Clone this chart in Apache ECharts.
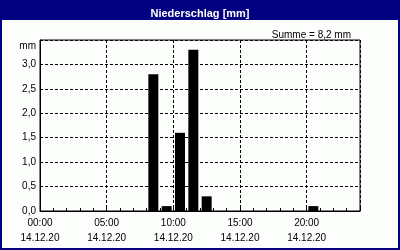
<!DOCTYPE html>
<html>
<head>
<meta charset="utf-8">
<script src="https://cdn.jsdelivr.net/npm/echarts@6/dist/echarts.min.js"></script>
<style>
html,body{margin:0;padding:0;background:#fbfefb;}
#chart{width:400px;height:250px;}
</style>
</head>
<body>
<div id="chart"></div>
<script>
// ---- data ----
const hours = [8, 9, 10, 11, 12, 20];          // start hour of each hourly bar
const precip = [2.8, 0.1, 1.6, 3.3, 0.3, 0.1];  // mm
const xTickHours = [0, 5, 10, 15, 20];
const xTickTimes = ['00:00', '05:00', '10:00', '15:00', '20:00'];
const xTickDates = ['14.12.20', '14.12.20', '14.12.20', '14.12.20', '14.12.20'];
const yTicks = [0, 0.5, 1.0, 1.5, 2.0, 2.5, 3.0];
const yUnit = 'mm';
const titleText = 'Niederschlag [mm]';
const sumText = 'Summe = 8,2 mm';

const font = 'Liberation Sans, Arial, sans-serif';
const chart = echarts.init(document.getElementById('chart'), null, {renderer: 'canvas'});

const option = {
  backgroundColor: '#fbfefb',
  animation: false,
  graphic: [
    {type: 'rect', z: -10, shape: {x: 1, y: 1, width: 398, height: 248}, style: {fill: '#fbfefb', stroke: '#000080', lineWidth: 2}},
    {type: 'rect', z: -9, shape: {x: 0, y: 0, width: 400, height: 20}, style: {fill: '#000080'}}
  ],
  title: [
    {text: titleText, left: 'center', top: 3,
     textStyle: {color: '#ffffff', fontFamily: font, fontWeight: 'bold', fontSize: 11}},
    {text: sumText, right: 44, top: 25,
     textStyle: {color: '#000000', fontFamily: font, fontWeight: 'normal', fontSize: 10}}
  ],
  grid: {left: 40, right: 40, top: 40, bottom: 39, show: true, borderColor: '#000', borderWidth: 1, backgroundColor: 'transparent'},
  xAxis: [
    {
      type: 'value', min: 0, max: 24, interval: 1,
      axisLine: {show: true, lineStyle: {color: '#000', width: 1}},
      axisTick: {show: true, inside: true, length: 3, lineStyle: {color: '#000'}},
      splitLine: {show: false},
      axisLabel: {
        show: true, margin: 5, lineHeight: 15, color: '#000', fontFamily: font, fontSize: 10,
        formatter: function (v) {
          const i = xTickHours.indexOf(v);
          return i >= 0 ? xTickTimes[i] + '\n' + xTickDates[i] : '';
        }
      }
    },
    {
      type: 'value', min: 0, max: 24, interval: 5, position: 'bottom',
      axisLine: {show: false}, axisTick: {show: false}, axisLabel: {show: false},
      splitLine: {show: true, lineStyle: {color: '#000', type: [3, 2], width: 1}}
    }
  ],
  yAxis: {
    type: 'value', min: 0, max: 3.5, interval: 0.5,
    name: yUnit, nameLocation: 'end', nameGap: -11,
    nameTextStyle: {color: '#000', fontFamily: font, fontSize: 10, align: 'right', padding: [0, 4, 0, 0]},
    axisLine: {show: true, lineStyle: {color: '#000', width: 1}},
    axisTick: {show: false},
    splitLine: {show: true, lineStyle: {color: '#000', type: [3, 2], width: 1}},
    axisLabel: {
      margin: 4, color: '#000', fontFamily: font, fontSize: 10,
      formatter: function (v) {
        return yTicks.some(t => Math.abs(t - v) < 1e-9) ? v.toFixed(1).replace('.', ',') : '';
      }
    }
  },
  series: [{
    type: 'bar', xAxisIndex: 0, yAxisIndex: 0,
    barWidth: 10,
    itemStyle: {color: '#000'},
    data: hours.map((h, i) => [h + 0.5, precip[i]])
  }]
};
chart.setOption(option);
</script>
</body>
</html>
